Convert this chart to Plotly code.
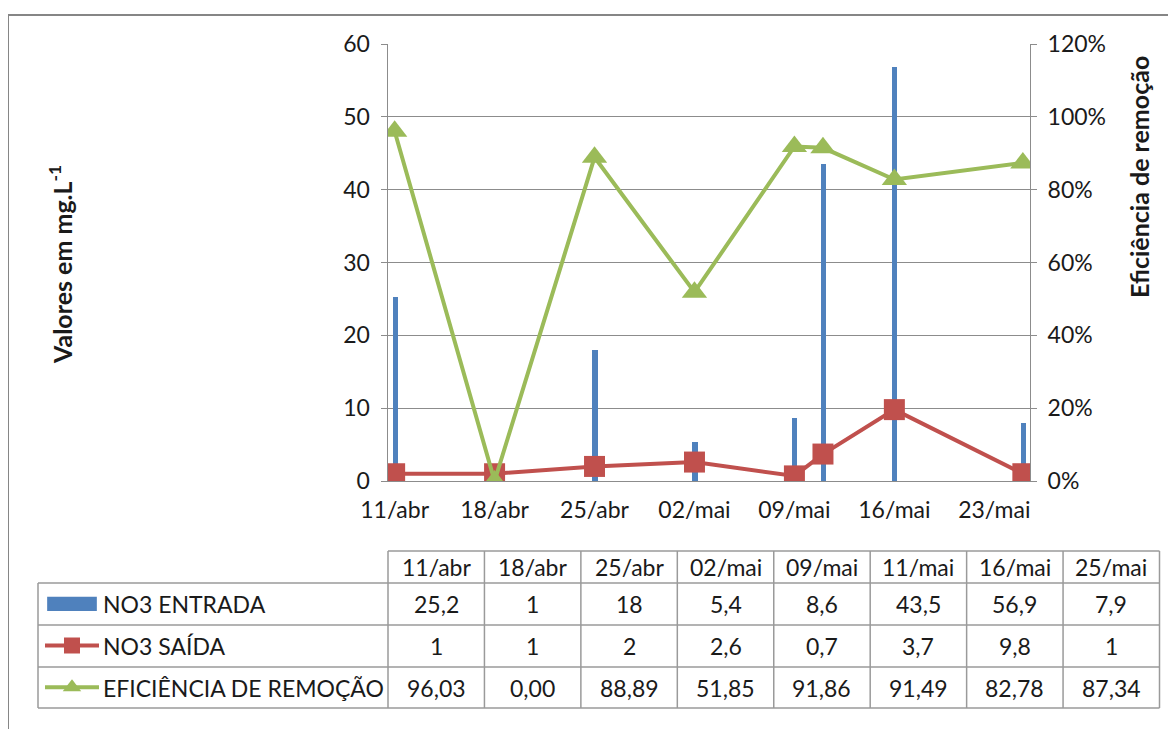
import plotly.graph_objects as go
from datetime import datetime, timedelta

# ---------------- data ----------------
dates = ["2012-04-11", "2012-04-18", "2012-04-25", "2012-05-02",
         "2012-05-09", "2012-05-11", "2012-05-16", "2012-05-25"]
table_dates = ["11/abr", "18/abr", "25/abr", "02/mai", "09/mai", "11/mai", "16/mai", "25/mai"]
no3_entrada = [25.2, 1, 18, 5.4, 8.6, 43.5, 56.9, 7.9]
no3_saida = [1, 1, 2, 2.6, 0.7, 3.7, 9.8, 1]
eficiencia = [96.03, 0.00, 88.89, 51.85, 91.86, 91.49, 82.78, 87.34]
tick_dates = ["2012-04-11", "2012-04-18", "2012-04-25", "2012-05-02",
              "2012-05-09", "2012-05-16", "2012-05-23"]
tick_labels = ["11/abr", "18/abr", "25/abr", "02/mai", "09/mai", "16/mai", "23/mai"]
series_names = ["NO3 ENTRADA", "NO3 SAÍDA", "EFICIÊNCIA DE REMOÇÃO"]

# ---------------- style ----------------
W, H = 1176, 729
OFF = 8  # page body margin of the html page
BLUE, RED, GREEN = "#4F81BD", "#C0504D", "#9BBB59"
GRID = "#8C8C8C"
TXT = "#1a1a1a"
FONT = "Lato"
FS = 23

def px(x):
    return (x - OFF) / W

def py(y):
    return 1 - (y - OFF) / H

fig = go.Figure()

day_ms = 86400000
fig.add_trace(go.Bar(x=dates, y=no3_entrada, name=series_names[0],
                     marker=dict(color=BLUE, line=dict(width=0)),
                     width=0.36 * day_ms, xaxis="x", yaxis="y", showlegend=False))
fig.add_trace(go.Scatter(x=dates, y=no3_saida, name=series_names[1], mode="lines+markers",
                         line=dict(color=RED, width=4),
                         marker=dict(symbol="square", size=21, color=RED),
                         xaxis="x", yaxis="y", showlegend=False))
fig.add_trace(go.Scatter(x=dates, y=[v / 100 for v in eficiencia], name=series_names[2],
                         mode="lines+markers",
                         line=dict(color=GREEN, width=4),
                         marker=dict(symbol="triangle-up", size=22, color=GREEN),
                         xaxis="x", yaxis="y2", showlegend=False))

# plot area
x0p, x1p = 387.5, 1030
y0p, y1p = 44, 481

d0 = datetime(2012, 4, 11) - timedelta(hours=12)
d1 = datetime(2012, 5, 25) + timedelta(hours=12)

fig.update_layout(
    width=W, height=H,
    margin=dict(l=0, r=0, t=0, b=0, pad=0, autoexpand=False),
    showlegend=False,
    paper_bgcolor="white", plot_bgcolor="white",
    font=dict(family=FONT, color=TXT),
    bargap=0,
    xaxis=dict(type="date", domain=[px(x0p), px(x1p)], range=[d0, d1], automargin=False,
               tickvals=tick_dates, ticktext=tick_labels, tickfont=dict(size=FS, color=TXT),
               showgrid=False, showline=True, linecolor=GRID, linewidth=1,
               ticks="", ticklabelstandoff=8, anchor="y", zeroline=False),
    yaxis=dict(domain=[py(y1p), py(y0p)], range=[0, 60], dtick=10, automargin=False,
               tickfont=dict(size=FS, color=TXT), showgrid=True, gridcolor=GRID, gridwidth=1,
               showline=True, linecolor=GRID, linewidth=1, ticks="outside", ticklen=6,
               tickcolor=GRID, zeroline=False, anchor="x", ticklabelstandoff=6),
    yaxis2=dict(domain=[py(y1p), py(y0p)], range=[0, 1.2], dtick=0.2, tickformat=".0%",
                overlaying="y", side="right", anchor="x", automargin=False,
                tickfont=dict(size=FS, color=TXT), showgrid=False,
                showline=True, linecolor=GRID, linewidth=1, ticks="outside", ticklen=6,
                tickcolor=GRID, zeroline=False, ticklabelstandoff=6),
)

# axis titles
fig.add_annotation(text="<b>Valores em mg.L<sup>-1</sup></b>", xref="paper", yref="paper",
                   x=px(60), y=py(265), textangle=-90, showarrow=False,
                   font=dict(size=25, color=TXT, family=FONT), xanchor="center", yanchor="middle")
fig.add_annotation(text="<b>Eficiência de remoção</b>", xref="paper", yref="paper",
                   x=px(1139), y=py(177), textangle=-90, showarrow=False,
                   font=dict(size=25, color=TXT, family=FONT), xanchor="center", yanchor="middle")

# chart-area border
shapes = [dict(type="rect", xref="paper", yref="paper", x0=px(8), x1=1.02, y0=-0.02, y1=py(15),
               line=dict(color="#868686", width=2), fillcolor="rgba(0,0,0,0)", layer="below")]

# ---------------- data table ----------------
tab_left, lab_right = 38, 388
col_w = (1159.5 - 388) / len(table_dates)
row_edges = [551, 583, 625, 667, 708]
TLINE = "#9A9A9A"

def hline(y, xa, xb):
    shapes.append(dict(type="line", xref="paper", yref="paper", x0=px(xa), x1=px(xb),
                       y0=py(y), y1=py(y), line=dict(color=TLINE, width=1.5)))

def vline(x, ya, yb):
    shapes.append(dict(type="line", xref="paper", yref="paper", x0=px(x), x1=px(x),
                       y0=py(ya), y1=py(yb), line=dict(color=TLINE, width=1.5)))

right_edge = lab_right + col_w * len(table_dates)
hline(row_edges[0], lab_right, right_edge)
for y in row_edges[1:]:
    hline(y, tab_left, right_edge)
vline(tab_left, row_edges[1], row_edges[-1])
for i in range(len(table_dates) + 1):
    vline(lab_right + i * col_w, row_edges[0], row_edges[-1])

def fmt(v, dec=None):
    if dec is not None:
        s = f"{v:.{dec}f}"
    else:
        s = f"{v:g}"
    return s.replace(".", ",")

rows = [[fmt(v) for v in no3_entrada],
        [fmt(v) for v in no3_saida],
        [fmt(v, 2) for v in eficiencia]]

for i, lab in enumerate(table_dates):
    cx = lab_right + (i + 0.5) * col_w
    fig.add_annotation(text=lab, xref="paper", yref="paper", x=px(cx),
                       y=py((row_edges[0] + row_edges[1]) / 2), showarrow=False,
                       font=dict(size=FS, color=TXT), xanchor="center", yanchor="middle")
    for r in range(3):
        fig.add_annotation(text=rows[r][i], xref="paper", yref="paper", x=px(cx),
                           y=py((row_edges[r + 1] + row_edges[r + 2]) / 2), showarrow=False,
                           font=dict(size=FS, color=TXT), xanchor="center", yanchor="middle")

for r, name in enumerate(series_names):
    fig.add_annotation(text=name, xref="paper", yref="paper", x=px(101),
                       y=py((row_edges[r + 1] + row_edges[r + 2]) / 2), showarrow=False,
                       font=dict(size=FS, color=TXT), xanchor="left", yanchor="middle")

# legend keys on an auxiliary axis placed over the label column
fig.update_layout(
    xaxis3=dict(domain=[px(45), px(99)], range=[0, 1], visible=False, fixedrange=True,
                anchor="y3", automargin=False),
    yaxis3=dict(domain=[py(row_edges[-1]), py(row_edges[1])], range=[3, 0], visible=False,
                fixedrange=True, anchor="x3", automargin=False),
)
shapes.append(dict(type="rect", xref="x3", yref="y3", x0=0.04, x1=0.96, y0=0.5 - 0.17, y1=0.5 + 0.17,
                   fillcolor=BLUE, line=dict(width=0)))
fig.add_trace(go.Scatter(x=[0, 0.5, 1], y=[1.5, 1.5, 1.5], mode="lines", xaxis="x3", yaxis="y3",
                         line=dict(color=RED, width=4), showlegend=False, hoverinfo="skip"))
fig.add_trace(go.Scatter(x=[0.5], y=[1.5], mode="markers", xaxis="x3", yaxis="y3",
                         marker=dict(symbol="square", size=16, color=RED),
                         showlegend=False, hoverinfo="skip"))
fig.add_trace(go.Scatter(x=[0, 0.5, 1], y=[2.5, 2.5, 2.5], mode="lines", xaxis="x3", yaxis="y3",
                         line=dict(color=GREEN, width=4), showlegend=False, hoverinfo="skip"))
fig.add_trace(go.Scatter(x=[0.5], y=[2.5], mode="markers", xaxis="x3", yaxis="y3",
                         marker=dict(symbol="triangle-up", size=16, color=GREEN),
                         showlegend=False, hoverinfo="skip"))

fig.update_layout(shapes=shapes)
fig.write_html("out.html")
